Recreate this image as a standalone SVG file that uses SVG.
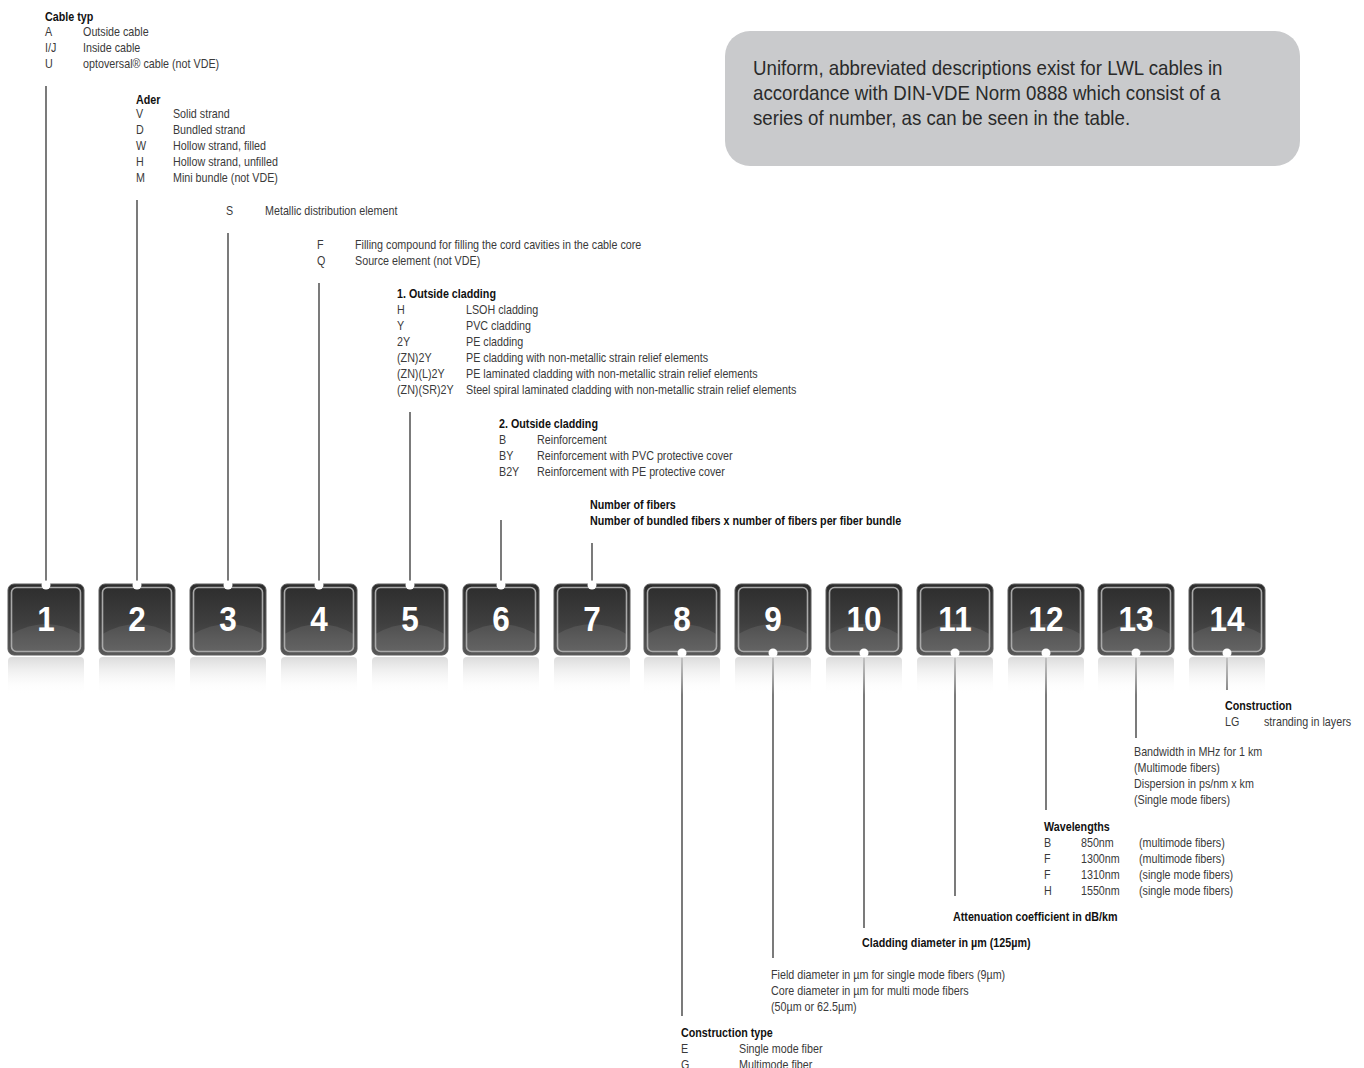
<svg xmlns="http://www.w3.org/2000/svg" xmlns:xlink="http://www.w3.org/1999/xlink" width="1364" height="1068" viewBox="0 0 1364 1068">
<style>
text{font-family:"Liberation Sans",Arial,sans-serif;font-size:12px;fill:#3a3a3a}
.h{font-weight:bold;fill:#111;font-size:12px}
.num{font-weight:bold;font-size:35px;fill:#fff;text-anchor:middle}
.intro{font-size:20.5px;fill:#2a2a2a}
.ln{stroke:#333;stroke-width:1.3;fill:none}
.dot{fill:#fff}
</style>
<defs>
<linearGradient id="gBox" x1="0" y1="0" x2="0" y2="1">
<stop offset="0" stop-color="#2c2c2c"/>
<stop offset="0.55" stop-color="#3f3f3f"/>
<stop offset="1" stop-color="#585858"/>
</linearGradient>
<linearGradient id="gRefl" x1="0" y1="0" x2="0" y2="1">
<stop offset="0" stop-color="#d2d2d2" stop-opacity="0.8"/>
<stop offset="1" stop-color="#ffffff" stop-opacity="0"/>
</linearGradient>
<g id="box">
<rect x="0" y="73" width="76" height="38" rx="4" fill="url(#gRefl)"/>
<rect x="0" y="0" width="76" height="71" rx="6" fill="url(#gBox)" stroke="#5c5c5c" stroke-width="1"/>
<path d="M3.5,50 Q38,30 72.5,50 L72.5,63 Q72.5,67.5 68,67.5 L8,67.5 Q3.5,67.5 3.5,63 Z" fill="#ffffff" opacity="0.09"/>
<rect x="3.5" y="3.5" width="69" height="64" rx="5" fill="none" stroke="#a9a9a9" stroke-width="1.6"/>
</g>
</defs>
<rect width="1364" height="1068" fill="#ffffff"/>

<g id="intro">
<rect x="725" y="31" width="575" height="135" rx="25" fill="#c9cacc"/>
<g transform="translate(753,0) scale(0.912,1)">
<text class="intro" x="0" y="75">Uniform, abbreviated descriptions exist for LWL cables in</text>
<text class="intro" x="0" y="100">accordance with DIN-VDE Norm 0888 which consist of a</text>
<text class="intro" x="0" y="125">series of number, as can be seen in the table.</text>
</g>
</g>

<g id="connectors">
<line class="ln" x1="46" y1="86" x2="46" y2="585"/>
<line class="ln" x1="137" y1="200" x2="137" y2="585"/>
<line class="ln" x1="228" y1="233" x2="228" y2="585"/>
<line class="ln" x1="319" y1="283" x2="319" y2="585"/>
<line class="ln" x1="410" y1="412" x2="410" y2="585"/>
<line class="ln" x1="501" y1="520" x2="501" y2="585"/>
<line class="ln" x1="592" y1="543" x2="592" y2="585"/>
<line class="ln" x1="682" y1="654" x2="682" y2="1016"/>
<line class="ln" x1="773" y1="654" x2="773" y2="958"/>
<line class="ln" x1="864" y1="654" x2="864" y2="928"/>
<line class="ln" x1="955" y1="654" x2="955" y2="896"/>
<line class="ln" x1="1046" y1="654" x2="1046" y2="810"/>
<line class="ln" x1="1136" y1="654" x2="1136" y2="738"/>
<line class="ln" x1="1227" y1="654" x2="1227" y2="690"/>
</g>

<g id="node1"><use xlink:href="#box" x="8" y="584"/><text class="num" transform="translate(46,631) scale(0.9,1)">1</text><circle class="dot" cx="46" cy="585" r="4.5"/></g>
<g id="node2"><use xlink:href="#box" x="99" y="584"/><text class="num" transform="translate(137,631) scale(0.9,1)">2</text><circle class="dot" cx="137" cy="585" r="4.5"/></g>
<g id="node3"><use xlink:href="#box" x="190" y="584"/><text class="num" transform="translate(228,631) scale(0.9,1)">3</text><circle class="dot" cx="228" cy="585" r="4.5"/></g>
<g id="node4"><use xlink:href="#box" x="281" y="584"/><text class="num" transform="translate(319,631) scale(0.9,1)">4</text><circle class="dot" cx="319" cy="585" r="4.5"/></g>
<g id="node5"><use xlink:href="#box" x="372" y="584"/><text class="num" transform="translate(410,631) scale(0.9,1)">5</text><circle class="dot" cx="410" cy="585" r="4.5"/></g>
<g id="node6"><use xlink:href="#box" x="463" y="584"/><text class="num" transform="translate(501,631) scale(0.9,1)">6</text><circle class="dot" cx="501" cy="585" r="4.5"/></g>
<g id="node7"><use xlink:href="#box" x="554" y="584"/><text class="num" transform="translate(592,631) scale(0.9,1)">7</text><circle class="dot" cx="592" cy="585" r="4.5"/></g>
<g id="node8"><use xlink:href="#box" x="644" y="584"/><text class="num" transform="translate(682,631) scale(0.9,1)">8</text><circle class="dot" cx="682" cy="653" r="4.5"/></g>
<g id="node9"><use xlink:href="#box" x="735" y="584"/><text class="num" transform="translate(773,631) scale(0.9,1)">9</text><circle class="dot" cx="773" cy="653" r="4.5"/></g>
<g id="node10"><use xlink:href="#box" x="826" y="584"/><text class="num" transform="translate(864,631) scale(0.9,1)">10</text><circle class="dot" cx="864" cy="653" r="4.5"/></g>
<g id="node11"><use xlink:href="#box" x="917" y="584"/><text class="num" transform="translate(955,631) scale(0.9,1)">11</text><circle class="dot" cx="955" cy="653" r="4.5"/></g>
<g id="node12"><use xlink:href="#box" x="1008" y="584"/><text class="num" transform="translate(1046,631) scale(0.9,1)">12</text><circle class="dot" cx="1046" cy="653" r="4.5"/></g>
<g id="node13"><use xlink:href="#box" x="1098" y="584"/><text class="num" transform="translate(1136,631) scale(0.9,1)">13</text><circle class="dot" cx="1136" cy="653" r="4.5"/></g>
<g id="node14"><use xlink:href="#box" x="1189" y="584"/><text class="num" transform="translate(1227,631) scale(0.9,1)">14</text><circle class="dot" cx="1227" cy="653" r="4.5"/></g>

<g id="label1" transform="translate(45,0) scale(0.895,1)">
<text class="h" x="0" y="21">Cable typ</text>
<text x="0" y="36">A</text><text x="42.5" y="36">Outside cable</text>
<text x="0" y="52">I/J</text><text x="42.5" y="52">Inside cable</text>
<text x="0" y="68">U</text><text x="42.5" y="68">optoversal® cable (not VDE)</text>
</g>
<g id="label2" transform="translate(136,0) scale(0.895,1)">
<text class="h" x="0" y="104">Ader</text>
<text x="0" y="118">V</text><text x="41.3" y="118">Solid strand</text>
<text x="0" y="134">D</text><text x="41.3" y="134">Bundled strand</text>
<text x="0" y="150">W</text><text x="41.3" y="150">Hollow strand, filled</text>
<text x="0" y="166">H</text><text x="41.3" y="166">Hollow strand, unfilled</text>
<text x="0" y="182">M</text><text x="41.3" y="182">Mini bundle (not VDE)</text>
</g>
<g id="label3" transform="translate(226,0) scale(0.895,1)">
<text x="0" y="215">S</text><text x="43.6" y="215">Metallic distribution element</text>
</g>
<g id="label4" transform="translate(317,0) scale(0.895,1)">
<text x="0" y="249">F</text><text x="42.5" y="249">Filling compound for filling the cord cavities in the cable core</text>
<text x="0" y="265">Q</text><text x="42.5" y="265">Source element (not VDE)</text>
</g>
<g id="label5" transform="translate(397,0) scale(0.895,1)">
<text class="h" x="0" y="298">1. Outside cladding</text>
<text x="0" y="314">H</text><text x="77.1" y="314">LSOH cladding</text>
<text x="0" y="330">Y</text><text x="77.1" y="330">PVC cladding</text>
<text x="0" y="346">2Y</text><text x="77.1" y="346">PE cladding</text>
<text x="0" y="362">(ZN)2Y</text><text x="77.1" y="362">PE cladding with non-metallic strain relief elements</text>
<text x="0" y="378">(ZN)(L)2Y</text><text x="77.1" y="378">PE laminated cladding with non-metallic strain relief elements</text>
<text x="0" y="394">(ZN)(SR)2Y</text><text x="77.1" y="394">Steel spiral laminated cladding with non-metallic strain relief elements</text>
</g>
<g id="label6" transform="translate(499,0) scale(0.895,1)">
<text class="h" x="0" y="428">2. Outside cladding</text>
<text x="0" y="444">B</text><text x="42.5" y="444">Reinforcement</text>
<text x="0" y="460">BY</text><text x="42.5" y="460">Reinforcement with PVC protective cover</text>
<text x="0" y="476">B2Y</text><text x="42.5" y="476">Reinforcement with PE protective cover</text>
</g>
<g id="label7" transform="translate(590,0) scale(0.895,1)">
<text class="h" x="0" y="509">Number of fibers</text>
<text class="h" x="0" y="525">Number of bundled fibers x number of fibers per fiber bundle</text>
</g>
<g id="label8" transform="translate(681,0) scale(0.895,1)">
<text class="h" x="0" y="1037">Construction type</text>
<text x="0" y="1053">E</text><text x="64.8" y="1053">Single mode fiber</text>
<text x="0" y="1069">G</text><text x="64.8" y="1069">Multimode fiber</text>
</g>
<g id="label9" transform="translate(771,0) scale(0.895,1)">
<text x="0" y="979">Field diameter in µm for single mode fibers (9µm)</text>
<text x="0" y="995">Core diameter in µm for multi mode fibers</text>
<text x="0" y="1011">(50µm or 62.5µm)</text>
</g>
<g id="label10" transform="translate(862,0) scale(0.895,1)">
<text class="h" x="0" y="947">Cladding diameter in µm (125µm)</text>
</g>
<g id="label11" transform="translate(953,0) scale(0.895,1)">
<text class="h" x="0" y="921">Attenuation coefficient in dB/km</text>
</g>
<g id="label12" transform="translate(1044,0) scale(0.895,1)">
<text class="h" x="0" y="831">Wavelengths</text>
<text x="0" y="847">B</text><text x="41.3" y="847">850nm</text><text x="106.1" y="847">(multimode fibers)</text>
<text x="0" y="863">F</text><text x="41.3" y="863">1300nm</text><text x="106.1" y="863">(multimode fibers)</text>
<text x="0" y="879">F</text><text x="41.3" y="879">1310nm</text><text x="106.1" y="879">(single mode fibers)</text>
<text x="0" y="895">H</text><text x="41.3" y="895">1550nm</text><text x="106.1" y="895">(single mode fibers)</text>
</g>
<g id="label13" transform="translate(1134,0) scale(0.895,1)">
<text x="0" y="756">Bandwidth in MHz for 1 km</text>
<text x="0" y="772">(Multimode fibers)</text>
<text x="0" y="788">Dispersion in ps/nm x km</text>
<text x="0" y="804">(Single mode fibers)</text>
</g>
<g id="label14" transform="translate(1225,0) scale(0.895,1)">
<text class="h" x="0" y="710">Construction</text>
<text x="0" y="726">LG</text><text x="43.6" y="726">stranding in layers</text>
</g>
</svg>
